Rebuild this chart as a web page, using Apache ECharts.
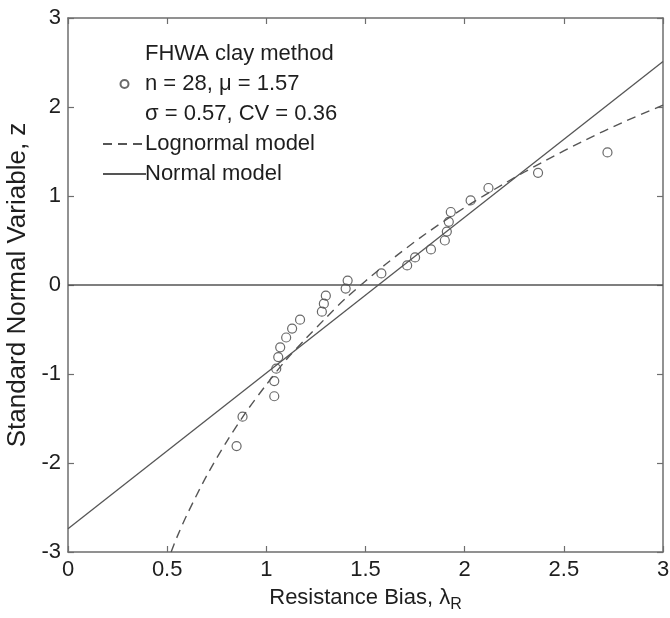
<!DOCTYPE html>
<html>
<head>
<meta charset="utf-8">
<script src="https://cdn.jsdelivr.net/npm/echarts@6/dist/echarts.min.js"></script>
<style>
  html, body { margin: 0; padding: 0; background: #fff; }
  #chart { width: 670px; height: 618px; }
</style>
</head>
<body>
<div id="chart"></div>
<script>
// measured bias values and their standard normal variables
const biasX = [0.85, 0.88, 1.04, 1.04, 1.05, 1.06, 1.07, 1.10, 1.13, 1.17, 1.28, 1.29, 1.30,
  1.40, 1.41, 1.58, 1.71, 1.75, 1.83, 1.90, 1.91, 1.92, 1.93, 2.03, 2.12, 2.37, 2.72]
const zVals = [-1.81, -1.48, -1.25, -1.08, -0.94, -0.81, -0.70, -0.59, -0.49, -0.39, -0.30, -0.21, -0.12,
  -0.04, 0.05, 0.13, 0.22, 0.31, 0.40, 0.50, 0.60, 0.71, 0.82, 0.95, 1.09, 1.26, 1.49]

// lognormal fit curve
const lognX = [0.52, 0.55, 0.60, 0.70, 0.80, 0.90, 1.00, 1.10, 1.20, 1.30, 1.40, 1.60, 1.80, 2.00, 2.20, 2.40, 2.60, 2.80, 3.00]
const lognZ = [-3.00, -2.83, -2.58, -2.14, -1.76, -1.42, -1.12, -0.84, -0.60, -0.37, -0.15, 0.23, 0.57, 0.87, 1.14, 1.39, 1.62, 1.83, 2.02]

// normal fit line end points
const normX = [0, 3]
const normZ = [-2.74, 2.51]

const xTicks = [0, 0.5, 1, 1.5, 2, 2.5, 3]
const yTicks = [-3, -2, -1, 0, 1, 2, 3]

const zip = (a, b) => a.map((v, i) => [v, b[i]])

const axisGrey = '#6e6e6e'
const lineGrey = '#555'
const textCol = '#1e1e1e'
const font = 'Liberation Sans, Arial, sans-serif'
const fs = 22

let myChart = echarts.init(document.getElementById('chart'))

const baseX = {
  type: 'value',
  min: xTicks[0],
  max: xTicks[xTicks.length - 1],
  interval: 0.5,
  splitLine: { show: false },
  axisLine: { onZero: false, lineStyle: { color: axisGrey, width: 1.5 } },
  axisTick: { inside: true, length: 6, lineStyle: { color: axisGrey, width: 1.2 } }
}
const baseY = {
  type: 'value',
  min: yTicks[0],
  max: yTicks[yTicks.length - 1],
  interval: 1,
  splitLine: { show: false },
  axisLine: { onZero: false, lineStyle: { color: axisGrey, width: 1.5 } },
  axisTick: { inside: true, length: 6, lineStyle: { color: axisGrey, width: 1.2 } }
}

myChart.setOption({
  animation: false,
  backgroundColor: '#fff',
  textStyle: { fontFamily: font },
  grid: { left: 68, right: 7, top: 18, bottom: 66, outerBoundsMode: 'none' },
  xAxis: [
    Object.assign({}, baseX, {
      position: 'bottom',
      axisLabel: { color: textCol, fontSize: fs, margin: 7 },
      name: '{a|Resistance Bias, λ}{s|R}',
      nameLocation: 'middle',
      nameGap: 31,
      nameTextStyle: {
        rich: {
          a: { fontSize: fs, color: textCol, fontFamily: font },
          s: { fontSize: 16, color: textCol, fontFamily: font, padding: [14, 0, 0, 0] }
        }
      }
    }),
    Object.assign({}, baseX, { position: 'top', axisLabel: { show: false } })
  ],
  yAxis: [
    Object.assign({}, baseY, {
      position: 'left',
      axisLabel: { color: textCol, fontSize: fs, margin: 7 },
      name: 'Standard Normal Variable, z',
      nameLocation: 'middle',
      nameGap: 31,
      nameTextStyle: { fontSize: 26, color: textCol }
    }),
    Object.assign({}, baseY, { position: 'right', axisLabel: { show: false } })
  ],
  legend: {
    orient: 'vertical',
    left: 97,
    top: 34,
    itemWidth: 43,
    itemHeight: 8,
    itemGap: 0,
    textStyle: { fontSize: fs, color: textCol, lineHeight: 30, padding: [0, 0, 0, -6] },
    data: [
      'FHWA clay method',
      { name: 'Lognormal model', itemStyle: { opacity: 0 } },
      { name: 'Normal model', itemStyle: { opacity: 0 } }
    ],
    formatter: function (name) {
      if (name === 'FHWA clay method') {
        return 'FHWA clay method\nn = 28, μ = 1.57\nσ = 0.57, CV = 0.36'
      }
      return name
    }
  },
  series: [
    {
      name: 'zero',
      type: 'line',
      data: [[0, 0], [3, 0]],
      symbol: 'none',
      lineStyle: { color: lineGrey, width: 1.5 },
      silent: true
    },
    {
      name: 'Normal model',
      type: 'line',
      data: zip(normX, normZ),
      symbol: 'none',
      lineStyle: { color: lineGrey, width: 1.3 },
      itemStyle: { color: lineGrey }
    },
    {
      name: 'Lognormal model',
      type: 'line',
      data: zip(lognX, lognZ),
      symbol: 'none',
      smooth: 0.3,
      lineStyle: { color: lineGrey, width: 1.4, type: [9, 6] },
      itemStyle: { color: lineGrey }
    },
    {
      name: 'FHWA clay method',
      type: 'scatter',
      data: zip(biasX, zVals),
      symbol: 'circle',
      symbolSize: 9,
      itemStyle: { color: 'rgba(0,0,0,0)', borderColor: '#444', borderWidth: 1.2 }
    }
  ]
})

window.addEventListener('resize', function () {
  myChart.resize()
})
</script>
</body>
</html>
